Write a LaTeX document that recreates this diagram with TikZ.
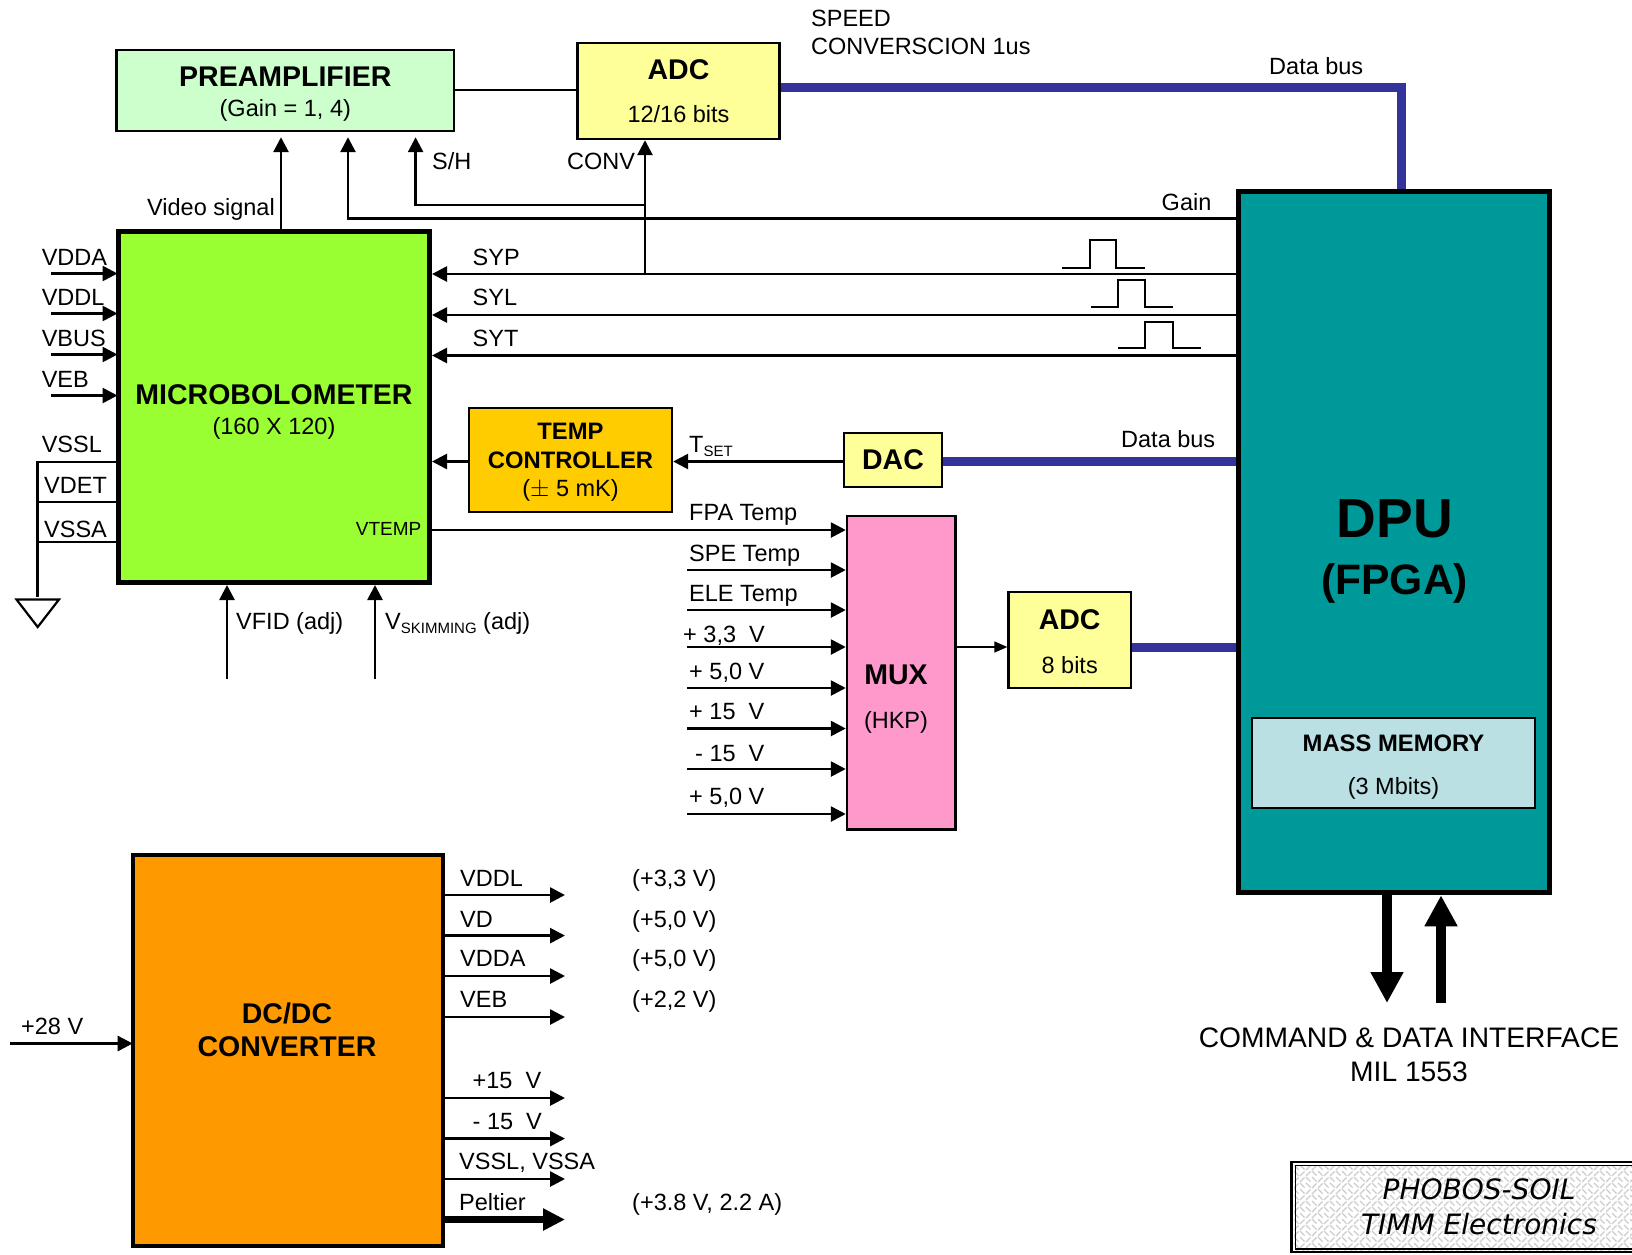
\documentclass[tikz,border=0pt]{standalone}
\usepackage{fontspec}
\setmainfont{Liberation Sans}
\newfontfamily\logofont{DejaVu Sans}
\usetikzlibrary{arrows.meta}
\newcommand{\reg}{\fontsize{23.5}{26}\selectfont}
\newcommand{\bldS}{\fontsize{23.8}{26}\bfseries\selectfont}
\newcommand{\bld}{\fontsize{28.5}{30}\bfseries\selectfont}
\newcommand{\pad}[1]{\rule{0pt}{#1pt}}
\definecolor{busblue}{HTML}{333399}
\tikzset{
  x=1pt,y=-1pt,
  blk/.style={draw=black,line width=2.4pt,align=center,inner sep=0pt,font=\reg},
  heavy/.style={draw=black,line width=5pt,inner sep=0pt,align=center,font=\reg},
  lab/.style={anchor=west,inner sep=0pt,text height=16.7pt,text depth=0pt,font=\reg},
  ctr/.style={anchor=center,inner sep=0pt,font=\reg,align=center},
  sig/.style={draw=black,line width=2.7pt,-{Triangle[length=15pt,width=15pt]}},
  wire/.style={draw=black,line width=2.2pt},
  bus/.style={draw=busblue,line width=9pt},
  pulse/.style={draw=black,line width=2pt},
  fat/.style={draw=black,line width=10pt,-{Triangle[length=31pt,width=31pt]}},
}
\begin{document}
\begin{tikzpicture}
\useasboundingbox (0,0) rectangle (1632,1254);
% boxes
\node[blk,fill={rgb,255:red,204;green,255;blue,204},minimum width=337.4pt,minimum height=81pt] (preamp) at (285.3,90.5)
  {\bld\pad{26}PREAMPLIFIER\\[4pt]\reg (Gain = 1, 4)};
\node[blk,fill={rgb,255:red,255;green,255;blue,153},minimum width=202pt,minimum height=96pt] (adcA) at (678.5,91)
  {\bld ADC\\[17pt]\reg 12/16 bits};
\node[heavy,fill={rgb,255:red,153;green,255;blue,51},minimum width=311pt,minimum height=351pt] (micro) at (274,407)
  {\bld\pad{30}MICROBOLOMETER\\[4pt]\reg (160 X 120)};
\node[heavy,fill={rgb,255:red,0;green,153;blue,153},minimum width=311.5pt,minimum height=701.5pt] (dpu) at (1394.2,542) {};
\node[blk,fill={rgb,255:red,187;green,224;blue,227},minimum width=283pt,minimum height=90pt] (mass) at (1393.5,763)
  {\bldS\pad{24.5}MASS MEMORY\\[17pt]\reg (3 Mbits)};
\node[blk,fill={rgb,255:red,255;green,204;blue,0},minimum width=203pt,minimum height=104pt] (temp) at (570.5,460)
  {\bldS\pad{21.5}TEMP\\[3pt]\bldS CONTROLLER\\[2pt]\reg ($\pm$ 5 mK)};
\node[blk,fill={rgb,255:red,255;green,255;blue,153},minimum width=98pt,minimum height=54pt] (dac) at (893,460) {\bld DAC};
\node[blk,fill={rgb,255:red,255;green,153;blue,204},minimum width=108.5pt,minimum height=313.5pt] (mux) at (901.2,672.7) {};
\node[blk,fill={rgb,255:red,255;green,255;blue,153},minimum width=122.5pt,minimum height=96pt] (adcB) at (1069.7,640)
  {\bld\pad{23}ADC\\[18pt]\reg 8 bits};
\node[heavy,line width=4pt,fill={rgb,255:red,255;green,153;blue,0},minimum width=310pt,minimum height=391.3pt] (dcdc) at (287.7,1050.3) {};
% texts in large boxes
\node[ctr] (dpuT) at (1394.7,551.5) {\fontsize{55}{62}\bfseries\selectfont DPU\\[24pt]\fontsize{42.6}{50}\bfseries\selectfont (FPGA)};
\node[ctr] (muxT) at (896,699) {\bld MUX\\[18pt]\reg (HKP)};
\node[ctr] (dcT) at (287,1030) {\bld DC/DC\\[7pt]\bld CONVERTER};
% buses
\coordinate (busCorner) at (1401,87.5);
\draw[bus,line join=miter] (adcA.east |- busCorner) -- (busCorner) -- (busCorner |- dpu.north);
\draw[bus] (dac.east |- 0,461.5) -- (dpu.west |- 0,461.5);
\draw[bus] (adcB.east |- 0,647) -- (dpu.west |- 0,647);
% signals to micro and preamp
\coordinate (jSYP) at (645,274);
\coordinate (jSH) at (645,205);
\coordinate (jG) at (348,218.5);
\draw[wire] (preamp.east |- 0,90) -- (adcA.west |- 0,90);
\draw[sig,shorten >=5pt] (micro.north -| 281,0) -- (preamp.south -| 281,0);
\draw[sig,shorten >=5pt] (dpu.west |- jG) -- (jG) -- (preamp.south -| jG);
\draw[sig,shorten >=5pt] (jSH) -- (415.6,205) -- (preamp.south -| 415.6,0);
\draw[sig] (jSYP) -- (adcA.south -| jSYP);
\draw[sig] (dpu.west |- jSYP) -- (micro.east |- jSYP);
\draw[sig] (dpu.west |- 0,315) -- (micro.east |- 0,315);
\draw[sig] (dpu.west |- 0,355.5) -- (micro.east |- 0,355.5);
\draw[sig] (dac.west |- 0,461.5) -- (temp.east |- 0,461.5);
\draw[sig] (temp.west |- 0,461.5) -- (micro.east |- 0,461.5);
% pulses
\draw[pulse] (1062,267.5) -- (1090,267.5) -- (1090,240) -- (1116,240) -- (1116,267.5) -- (1145,267.5);
\draw[pulse] (1091,307) -- (1118,307) -- (1118,280) -- (1145,280) -- (1145,307) -- (1173,307);
\draw[pulse] (1118,347.6) -- (1145,347.6) -- (1145,321.6) -- (1173,321.6) -- (1173,347.6) -- (1201,347.6);
% micro left side
\coordinate (inA) at (51,273.5);
\coordinate (inB) at (51,313.5);
\coordinate (inC) at (51,354.5);
\coordinate (inD) at (51,395.5);
\foreach \c in {inA,inB,inC,inD}{\draw[sig,shorten >=-1.5pt] (\c) -- (micro.west |- \c);}
\coordinate (gT) at (37.5,462);
\coordinate (gM) at (37.5,502);
\coordinate (gS) at (37.5,542);
\coordinate (gB) at (37.5,597);
\draw[wire] (micro.west |- gT) -- (gT) -- (gB);
\draw[wire] (micro.west |- gM) -- (gM);
\draw[wire] (micro.west |- gS) -- (gS);
\draw[wire,line join=miter] (16.5,599.5) -- (59,599.5) -- (37.7,627) -- cycle;
\coordinate (fid) at (227,679);
\coordinate (skim) at (375,679);
\draw[sig] (fid) -- (micro.south -| fid);
\draw[sig] (skim) -- (micro.south -| skim);
% MUX
\draw[sig] (micro.east |- 0,530) -- (mux.west |- 0,530);
\foreach \n/\y in {a/570,b/610,c/647,d/688,e/728.5,f/769,g/814}{
  \coordinate (m\n) at (687,\y);
  \draw[sig] (m\n) -- (mux.west |- m\n);
}
\draw[sig,line width=1.6pt,-{Triangle[length=13pt,width=11pt]}] (mux.east |- 0,647) -- (adcB.west |- 0,647);
% DC/DC
\coordinate (in28) at (10.4,1043.5);
\draw[sig,shorten >=-2pt] (in28) -- (dcdc.west |- in28);
\foreach \n/\y in {a/895,b/935.6,c/976,d/1017,e/1098,f/1138.6,g/1179}{
  \coordinate (o\n) at (565,\y);
  \draw[sig] (dcdc.east |- o\n) -- (o\n);
}
\coordinate (oh) at (565,1219.5);
\draw[sig,line width=6.5pt,-{Triangle[length=22pt,width=21pt]}] (dcdc.east |- oh) -- (oh);
% command arrows
\coordinate (cmdA) at (1387,1003);
\coordinate (cmdB) at (1441,1003);
\draw[fat] (dpu.south -| cmdA) -- (cmdA);
\draw[fat] (cmdB) -- (dpu.south -| cmdB);
% labels
\node[ctr,anchor=west,align=left] (speed) at (811,32) {SPEED\\[2pt]CONVERSCION 1us};
\node[lab] (busL1) at (1269,66.5) {Data bus};
\node[lab] (shL) at (432,161) {S/H};
\node[lab] (convL) at (567,161) {CONV};
\node[lab] (vidL) at (147,207) {Video signal};
\node[lab] (gainL) at (1161.5,202) {Gain};
\node[lab] (sypL) at (472.5,257) {SYP};
\node[lab] (sylL) at (472.5,297.5) {SYL};
\node[lab] (sytL) at (472.5,338) {SYT};
\node[lab] (tsetL) at (689,444) {T{\fontsize{15}{15}\selectfont\raisebox{-4pt}{SET}}};
\node[lab] (busL2) at (1121,439) {Data bus};
\node[lab] (fpaL) at (689,512) {FPA Temp};
\node[lab] (speL) at (689,552.7) {SPE Temp};
\node[lab] (eleL) at (689,593) {ELE Temp};
\node[lab] (p33L) at (683,634) {+ 3,3\ \ V};
\node[lab] (p50L) at (689,671) {+ 5,0 V};
\node[lab] (p15L) at (689,711) {+ 15\ \ V};
\node[lab] (m15L) at (695,753.5) {- 15\ \ V};
\node[lab] (p50M) at (689,796) {+ 5,0 V};
\node[lab] (vddaL) at (41.6,257) {VDDA};
\node[lab] (vddlL) at (41.6,297) {VDDL};
\node[lab] (vbusL) at (41.6,338) {VBUS};
\node[lab] (vebL) at (41.6,379) {VEB};
\node[lab] (vsslL) at (41.6,444) {VSSL};
\node[lab] (vdetL) at (44,485) {VDET};
\node[lab] (vssaL) at (44,529) {VSSA};
\node[anchor=east,inner sep=0pt,font=\fontsize{19}{19}\selectfont] (vtempL) at (421.5,529) {VTEMP};
\node[lab] (vfidL) at (236,621) {VFID (adj)};
\node[lab] (vskimL) at (385,621) {V{\fontsize{15}{15}\selectfont\raisebox{-4pt}{SKIMMING}} (adj)};
\node[lab] (oVDDL) at (460,878) {VDDL};
\node[lab] (oVD) at (460,919) {VD};
\node[lab] (oVDDA) at (460,958.6) {VDDA};
\node[lab] (oVEB) at (460,999) {VEB};
\node[lab] (oP15) at (472.5,1080.5) {+15\ \ V};
\node[lab] (oM15) at (472.5,1121) {- 15\ \ V};
\node[lab] (oVSS) at (459,1161.5) {VSSL, VSSA};
\node[lab] (oPel) at (459,1202) {Peltier};
\node[lab] (v1) at (632,878) {(+3,3 V)};
\node[lab] (v2) at (632,919) {(+5,0 V)};
\node[lab] (v3) at (632,958.6) {(+5,0 V)};
\node[lab] (v4) at (632,999) {(+2,2 V)};
\node[lab] (v5) at (632,1202) {(+3.8 V, 2.2 A)};
\node[lab] (p28) at (21,1026) {+28 V};
\node[ctr,font=\fontsize{28.2}{34}\selectfont] (cmdL) at (1409,1055) {COMMAND \& DATA INTERFACE\\MIL 1553};
% logo
\begin{scope}
\clip (1294,1165) rectangle (1632,1250);
\foreach \i in {0,...,56}{\foreach \j in {0,...,14}{
  \pgfmathtruncatemacro{\k}{mod(\i+\j,4)}
  \ifnum\k<2
    \draw[gray!40,line width=1.3pt] ({1294+6*\i},{1165+6*\j}) -- ++(4.6,4.6);
  \else
    \draw[gray!40,line width=1.3pt] ({1294+6*\i},{1170+6*\j}) -- ++(4.6,-4.6);
  \fi
}}
\end{scope}
\draw[black,line width=2.5pt] (1632,1162) -- (1291.5,1162) -- (1291.5,1252) -- (1632,1252);
\draw[black,line width=1.5pt] (1632,1165.5) -- (1295.5,1165.5) -- (1295.5,1249) -- (1632,1249);
\node[ctr,font=\logofont\itshape\fontsize{28}{35}\selectfont] (logo) at (1479,1206.5) {PHOBOS-SOIL\\TIMM Electronics};
\end{tikzpicture}
\end{document}
